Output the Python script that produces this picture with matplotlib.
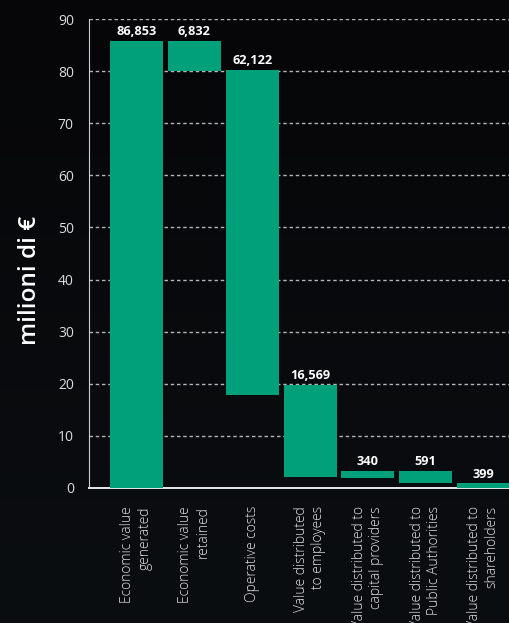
import numpy as np
import matplotlib.pyplot as plt

# categorie e valori (milioni di euro)
categorie = [
    "Economic value\ngenerated",
    "Economic value\nretained",
    "Operative costs",
    "Value distributed\nto employees",
    "Value distributed to\ncapital providers",
    "Value distributed to\nPublic Authorities",
    "Value distributed to\nshareholders",
]
etichette = ["86,853", "6,832", "62,122", "16,569", "340", "591", "399"]
base = [0.0, 80.0, 17.9, 2.2, 2.0, 1.0, 0.0]
cima = [85.8, 85.8, 80.2, 19.8, 3.3, 3.3, 0.9]

VERDE = "#00a07a"
SFONDO = "#060608"
FONT = "Open Sans"

fig = plt.figure(figsize=(5.09, 6.23), dpi=100, facecolor=SFONDO)

# leggero gradiente sullo sfondo
bg = fig.add_axes([0, 0, 1, 1], zorder=-1)
grad = np.linspace(0, 1, 256).reshape(-1, 1)
bg.imshow(grad, aspect="auto", cmap=plt.matplotlib.colors.LinearSegmentedColormap.from_list(
    "bg", [SFONDO, "#0b0e11"]), extent=[0, 1, 0, 1], origin="upper")
bg.axis("off")

ax = fig.add_axes([0.175, 0.2167, 0.825, 0.7528])
ax.set_facecolor("none")

x = np.arange(len(categorie))
altezze = np.array(cima) - np.array(base)
ax.bar(x, altezze, bottom=base, width=0.917, color=VERDE, zorder=3)

for xi, t, lab in zip(x, cima, etichette):
    ax.annotate(lab, (xi, t), xytext=(0, 2), textcoords="offset points",
                ha="center", va="bottom", color="white", fontsize=9.2,
                fontweight="bold", family=FONT, zorder=4)

ax.set_xlim(-0.82, 6.44)
ax.set_ylim(0, 90)
ax.set_yticks(np.arange(0, 91, 10))
ax.yaxis.grid(True, linestyle=(0, (2.5, 2)), color="#b4b4b4", linewidth=1, zorder=1)
ax.set_axisbelow(True)

for s in ["top", "right"]:
    ax.spines[s].set_visible(False)
ax.spines["left"].set_color("#cfcfcf")
ax.spines["bottom"].set_color("#e8e8e8")
ax.spines["bottom"].set_linewidth(1.4)

ax.tick_params(axis="y", length=0, pad=11, labelcolor="#dcdcdc", labelsize=10)
ax.tick_params(axis="x", length=0, pad=13)
for lab in ax.get_yticklabels():
    lab.set_family(FONT)

ax.set_xticks(x)
ax.set_xticklabels(categorie, rotation=90, ha="center", va="top",
                   multialignment="right", color="#e2e2e2", fontsize=10,
                   family=FONT, fontweight="light", linespacing=1.2)

ax.set_ylabel("milioni di €", color="white", fontsize=17.5, fontweight="semibold",
              family=FONT)
ax.yaxis.set_label_coords(-0.112, 0.443)

fig.savefig("out.png", dpi=100, facecolor=SFONDO)
